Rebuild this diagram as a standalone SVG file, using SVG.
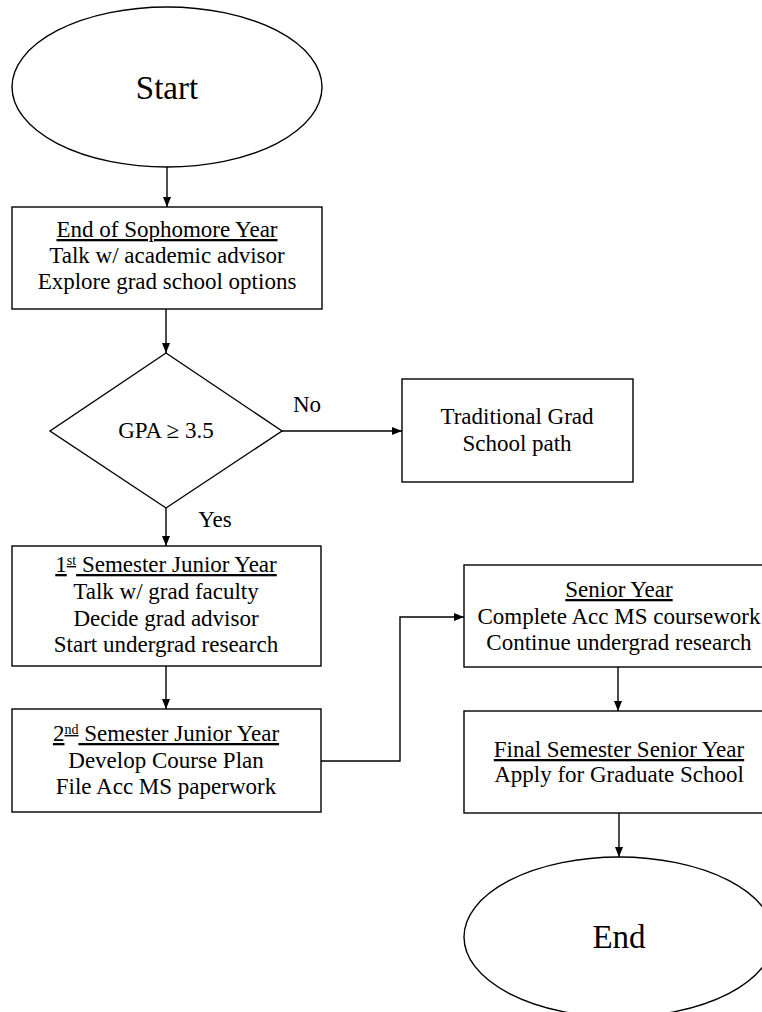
<svg xmlns="http://www.w3.org/2000/svg" width="762" height="1012" viewBox="0 0 762 1012">
<defs>
<marker id="arr" markerUnits="userSpaceOnUse" markerWidth="10" markerHeight="10" viewBox="0 0 10 10" refX="10" refY="5" orient="auto">
<path d="M0,1 L10,5 L0,9 Z" fill="#000"/>
</marker>
<style>
.shape{fill:#fff;stroke:#000;stroke-width:1.4}
.t{font-family:"Liberation Serif","Times New Roman",serif;font-size:23px;fill:#000;text-anchor:middle}
.big{font-size:33px}
.u{text-decoration:underline}
.sup{font-size:14px}
.conn{fill:none;stroke:#000;stroke-width:1.4;marker-end:url(#arr)}
</style>
</defs>
<rect width="762" height="1012" fill="#fff"/>
<g id="connectors">
<path class="conn" d="M167,167 V207"/>
<path class="conn" d="M166,309 V353"/>
<path class="conn" d="M282,431 H402"/>
<path class="conn" d="M166,508 V546"/>
<path class="conn" d="M166,666 V709"/>
<path class="conn" d="M321,761 H400 V617 H464"/>
<path class="conn" d="M618,667 V711"/>
<path class="conn" d="M619,813 V857"/>
<text class="t" x="307" y="412">No</text>
<text class="t" x="215" y="527">Yes</text>
</g>
<g id="start">
<ellipse class="shape" cx="167" cy="87" rx="155" ry="80"/>
<text class="t big" x="167" y="99">Start</text>
</g>
<g id="sophomore">
<rect class="shape" x="12" y="207" width="310" height="102"/>
<text class="t u" x="167" y="237">End of Sophomore Year</text>
<text class="t" x="167" y="263">Talk w/ academic advisor</text>
<text class="t" x="167" y="289">Explore grad school options</text>
</g>
<g id="gpa">
<polygon class="shape" points="166,353 282,431 166,508 50,431"/>
<text class="t" x="166" y="438">GPA ≥ 3.5</text>
</g>
<g id="traditional">
<rect class="shape" x="402" y="379" width="231" height="103"/>
<text class="t" x="517" y="424">Traditional Grad</text>
<text class="t" x="517" y="451">School path</text>
</g>
<g id="junior1">
<rect class="shape" x="12" y="546" width="309" height="120"/>
<text class="t u" x="166" y="572">1<tspan class="sup" baseline-shift="super">st</tspan> Semester Junior Year</text>
<text class="t" x="166" y="599">Talk w/ grad faculty</text>
<text class="t" x="166" y="626">Decide grad advisor</text>
<text class="t" x="166" y="652">Start undergrad research</text>
</g>
<g id="junior2">
<rect class="shape" x="12" y="709" width="309" height="103"/>
<text class="t u" x="166" y="741">2<tspan class="sup" baseline-shift="super">nd</tspan> Semester Junior Year</text>
<text class="t" x="166" y="768">Develop Course Plan</text>
<text class="t" x="166" y="794">File Acc MS paperwork</text>
</g>
<g id="senior">
<rect class="shape" x="464" y="565" width="310" height="102"/>
<text class="t u" x="619" y="597">Senior Year</text>
<text class="t" x="619" y="624">Complete Acc MS coursework</text>
<text class="t" x="619" y="650">Continue undergrad research</text>
</g>
<g id="final">
<rect class="shape" x="464" y="711" width="310" height="102"/>
<text class="t u" x="619" y="757">Final Semester Senior Year</text>
<text class="t" x="619" y="782">Apply for Graduate School</text>
</g>
<g id="end">
<ellipse class="shape" cx="619" cy="937" rx="155" ry="80"/>
<text class="t big" x="619" y="948">End</text>
</g>
</svg>
